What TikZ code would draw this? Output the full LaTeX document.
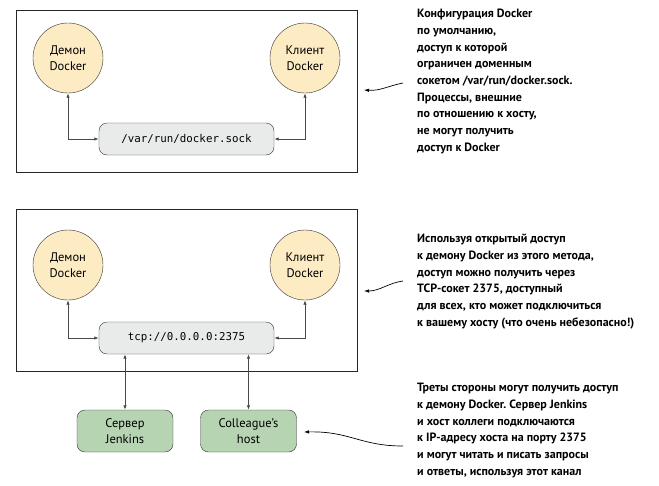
\documentclass[tikz,border=0pt]{standalone}
\usepackage{fontspec}
\setmainfont{PT Sans}
\setmonofont{DejaVu Sans Mono}
\usetikzlibrary{arrows.meta}
\definecolor{daemonfill}{HTML}{FDEBC3}
\definecolor{sockfill}{HTML}{E9EBEB}
\definecolor{hostfill}{HTML}{B6D4B2}
\definecolor{wire}{HTML}{4A4A4A}
\frenchspacing
\begin{document}
\begin{tikzpicture}[x=1pt,y=-1pt,
  proc/.style={circle, draw=black!80, fill=daemonfill, minimum size=70, inner sep=0, align=center, font=\fontsize{12.5}{16}\selectfont},
  sock/.style={rounded corners=8, draw=black!80, fill=sockfill, minimum width=175, minimum height=32, font=\fontsize{10.8}{13}\ttfamily},
  host/.style={rounded corners=8, draw=black!80, fill=hostfill, minimum width=96, minimum height=42, align=center, font=\fontsize{12.5}{16}\selectfont},
  note/.style={anchor=north west, inner sep=0, align=left, font=\fontsize{12}{16.7}\selectfont\bfseries},
  link/.style={wire, line width=0.8, {Latex[length=4.5,width=3.5]}-{Latex[length=4.5,width=3.5]}},
  callout/.style={black, line width=0.7, -{Latex[length=5,width=3.5]}}]
\useasboundingbox (0,0) rectangle (659,485);
% default configuration
\draw[black!85, line width=0.8] (16.7,10) rectangle (357,172);
\node[proc] (daemon1) at (68,58) {Демон\\Docker};
\node[proc] (client1) at (305,58) {Клиент\\Docker};
\node[sock] (unix) at (186.5,139) {/var/run/docker.sock};
\draw[link] (daemon1.south) |- (unix.west);
\draw[link] (client1.south) |- (unix.east);
\node[note] (note1) at (417,9) {Конфигурация Docker\\по умолчанию,\\доступ к которой\\ограничен доменным\\сокетом /var/run/docker.sock.\\Процессы, внешние\\по отношению к хосту,\\не могут получить\\доступ к Docker};
\coordinate (from1) at (403,83);
\coordinate (to1) at (364,90);
\draw[callout] (from1) .. controls (388,86) and (380,91) .. (to1);
% open tcp socket
\draw[black!85, line width=0.8] (16.7,209) rectangle (357,371);
\node[proc] (daemon2) at (68,265) {Демон\\Docker};
\node[proc] (client2) at (305,265) {Клиент\\Docker};
\node[sock] (tcp) at (186.5,338) {tcp://0.0.0.0:2375};
\draw[link] (daemon2.south) |- (tcp.west);
\draw[link] (client2.south) |- (tcp.east);
\node[note] (note2) at (417,234) {Используя открытый доступ\\к демону Docker из этого метода,\\доступ можно получить через\\TCP-сокет 2375, доступный\\для всех, кто может подключиться\\к вашему хосту (что очень небезопасно!)};
\coordinate (from2) at (403,281);
\coordinate (to2) at (364,291);
\draw[callout] (from2) .. controls (388,283) and (380,291) .. (to2);
% third parties
\node[host] (jenkins) at (125,431) {Сервер\\Jenkins};
\node[host] (colleague) at (248.5,431) {Colleague’s\\host};
\draw[link] (jenkins.north |- tcp.south) -- (jenkins.north);
\draw[link] (colleague.north |- tcp.south) -- (colleague.north);
\node[note] (note3) at (417,383) {Треты стороны могут получить доступ\\к демону Docker. Сервер Jenkins\\и хост коллеги подключаются\\к IP-адресу хоста на порту 2375\\и могут читать и писать запросы\\и ответы, используя этот канал};
\coordinate (from3) at (403,446);
\coordinate (to3) at (304,432);
\draw[callout] (from3) .. controls (360,446) and (350,431) .. (to3);
\end{tikzpicture}
\end{document}
